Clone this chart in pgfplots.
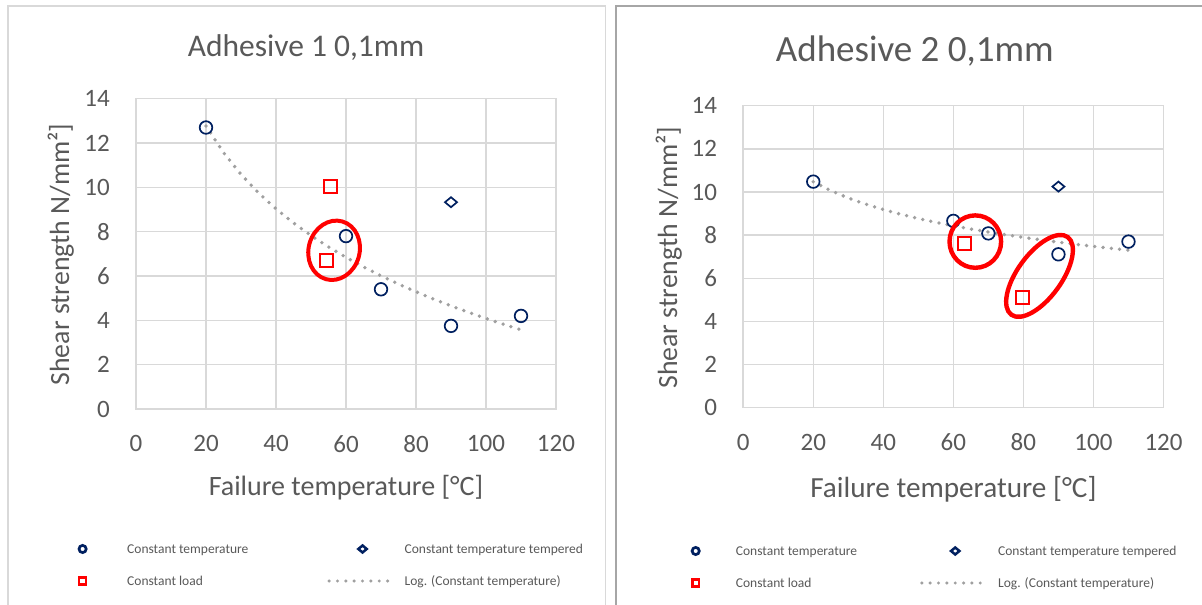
\documentclass[border=0pt]{standalone}
\usepackage{fontspec}
\setmainfont{Carlito}
\usepackage{pgfplots}
\pgfplotsset{compat=1.18}

\definecolor{txt}{HTML}{595959}
\definecolor{gridc}{HTML}{D9D9D9}
\definecolor{navy}{HTML}{002060}
\definecolor{trend}{HTML}{A0A0A0}
\definecolor{frameL}{HTML}{D9D9D9}
\definecolor{frameR}{HTML}{A6A6A6}

\pgfplotsset{
  excel/.style={
    scale only axis, clip=false,
    xmin=0, xmax=120, ymin=0, ymax=14,
    xtick={0,20,...,120}, ytick={0,2,...,14},
    grid=major,
    major grid style={draw=gridc, line width=1.5pt},
    axis line style={draw=gridc, line width=1.5pt},
    major tick length=0pt,
    /pgf/number format/assume math mode=true,
    tick label style={font=\fontsize{25}{30}\selectfont, text=txt, inner sep=0pt},
    yticklabel style={anchor=east, xshift=-26pt},
    xticklabel style={anchor=north, yshift=-26pt},
    legend cell align=left,
    legend columns=2,
  },
  ct/.style={only marks, mark=o, draw=navy, mark size=6.3pt, line width=1.7pt,
    legend image code/.code={\draw[mark size=3.6pt, line width=2.7pt] plot coordinates {(0pt,5pt)};}},
  ctt/.style={only marks, mark=diamond, draw=navy, mark size=5pt, line width=1.7pt,
    mark options={xscale=1.6},
    legend image code/.code={\draw[mark size=3.5pt, line width=2.5pt] plot coordinates {(0pt,5pt)};}},
  cl/.style={only marks, mark=square, draw=red, mark size=6.5pt, line width=1.7pt,
    legend image code/.code={\draw[mark size=3.4pt, line width=2.5pt] plot coordinates {(0pt,5pt)};}},
  logfit/.style={draw=trend, line width=3.8pt, dash pattern=on 0pt off 8.3pt, line cap=round, no marks,
    legend image code/.code={\draw[line width=3.4pt, dash pattern=on 0pt off 8.35pt, line cap=round] (-33.4pt,5pt) -- (33.4pt,5pt);}},
  lgd/.style={
    draw=none, fill=none, inner sep=0pt, outer sep=0pt,
    font=\fontsize{13.5}{16}\selectfont, text=txt,
    nodes={inner sep=0pt, anchor=base west, text height=11pt, text depth=3.5pt},
    row sep=17.5pt,
  },
}

\begin{document}
\begin{tikzpicture}
\path[use as bounding box, fill=white] (0pt,0pt) rectangle (1202pt,605pt);
% panel frames
\draw[frameL, line width=1.6pt] (8pt,-2pt) -- (8pt,599pt) -- (605.5pt,599pt) -- (605.5pt,-2pt);
\draw[frameR, line width=1.8pt] (616pt,-2pt) -- (616pt,599pt) -- (1204pt,599pt);

% ---------------- Adhesive 1 ----------------
\begin{axis}[excel,
  at={(136pt,196pt)}, anchor=south west, width=420pt, height=310.3pt,
  title={Adhesive 1 0,1mm},
  title style={at={(axis description cs:0.4048,1.1173)}, anchor=base, font=\fontsize{31.5}{36}\selectfont, text=txt, inner sep=0pt},
  xlabel={Failure temperature [°C]},
  xlabel style={at={(axis description cs:0.5,-0.2800)}, anchor=base, font=\fontsize{28}{32}\selectfont, text=txt, inner sep=0pt},
  ylabel={Shear strength N/mm²]},
  ylabel style={at={(axis description cs:-0.1595,0.498)}, anchor=base, font=\fontsize{27.8}{32}\selectfont, text=txt, inner sep=0pt},
  legend style={lgd, at={(axis description cs:-0.1357,-0.4318)}, anchor=north west,
    /tikz/column 1/.style={column sep=41pt},
    /tikz/column 2/.style={column sep=79pt},
    /tikz/column 3/.style={column sep=7pt}},
]
\addplot[ct] coordinates {(20,12.7) (60,7.8) (70,5.4) (90,3.75) (110,4.2)};
\addlegendentry{Constant temperature}
\addplot[ctt] coordinates {(90,9.33)};
\addlegendentry{Constant temperature tempered}
\addplot[cl] coordinates {(55.5,10.05) (54.5,6.7)};
\addlegendentry{Constant load}
\addplot[logfit] coordinates {
  (20,12.772) (25,11.567) (30,10.584) (35,9.752) (40,9.031) (45,8.395)
  (50,7.827) (55,7.312) (60,6.843) (65,6.410) (70,6.011) (75,5.638)
  (80,5.290) (85,4.962) (90,4.654) (95,4.362) (100,4.085) (105,3.822) (110,3.571)};
\addlegendentry{Log. (Constant temperature)}
\coordinate (E1) at (axis cs:56.6,7.16);
\end{axis}

% ---------------- Adhesive 2 ----------------
\begin{axis}[excel,
  at={(743.2pt,197.3pt)}, anchor=south west, width=420.3pt, height=302pt,
  title={Adhesive 2 0,1mm},
  title style={at={(axis description cs:0.4083,1.1271)}, anchor=base, font=\fontsize{37}{42}\selectfont, text=txt, inner sep=0pt},
  xlabel={Failure temperature [°C]},
  xlabel style={at={(axis description cs:0.5,-0.2958)}, anchor=base, font=\fontsize{29.2}{34}\selectfont, text=txt, inner sep=0pt},
  ylabel={Shear strength N/mm²]},
  ylabel style={at={(axis description cs:-0.1575,0.497)}, anchor=base, font=\fontsize{27.8}{32}\selectfont, text=txt, inner sep=0pt},
  legend style={lgd, at={(axis description cs:-0.1216,-0.4546)}, anchor=north west,
    /tikz/column 1/.style={column sep=36.6pt},
    /tikz/column 2/.style={column sep=63pt},
    /tikz/column 3/.style={column sep=7.8pt}},
]
\addplot[ct] coordinates {(20,10.48) (60,8.66) (70,8.08) (90,7.11) (110,7.70)};
\addlegendentry{Constant temperature}
\addplot[ctt] coordinates {(90,10.25)};
\addlegendentry{Constant temperature tempered}
\addplot[cl] coordinates {(63.2,7.62) (79.8,5.1)};
\addlegendentry{Constant load}
\addplot[logfit] coordinates {
  (20,10.478) (25,10.062) (30,9.722) (35,9.435) (40,9.186) (45,8.967)
  (50,8.771) (55,8.593) (60,8.431) (65,8.282) (70,8.144) (75,8.015)
  (80,7.895) (85,7.782) (90,7.676) (95,7.575) (100,7.479) (105,7.388) (110,7.302)};
\addlegendentry{Log. (Constant temperature)}
\coordinate (E2) at (axis cs:66.27,7.70);
\coordinate (E3) at (axis cs:84.6,6.11);
\end{axis}

% highlighted regions
\draw[red, line width=4pt, rotate around={74:(E1)}] (E1) ellipse [x radius=30pt, y radius=25.5pt];
\draw[red, line width=4.4pt] (E2) ellipse [x radius=25.8pt, y radius=26.2pt];
\draw[red, line width=4.4pt, rotate around={54:(E3)}] (E3) ellipse [x radius=48pt, y radius=22pt];
\end{tikzpicture}
\end{document}
